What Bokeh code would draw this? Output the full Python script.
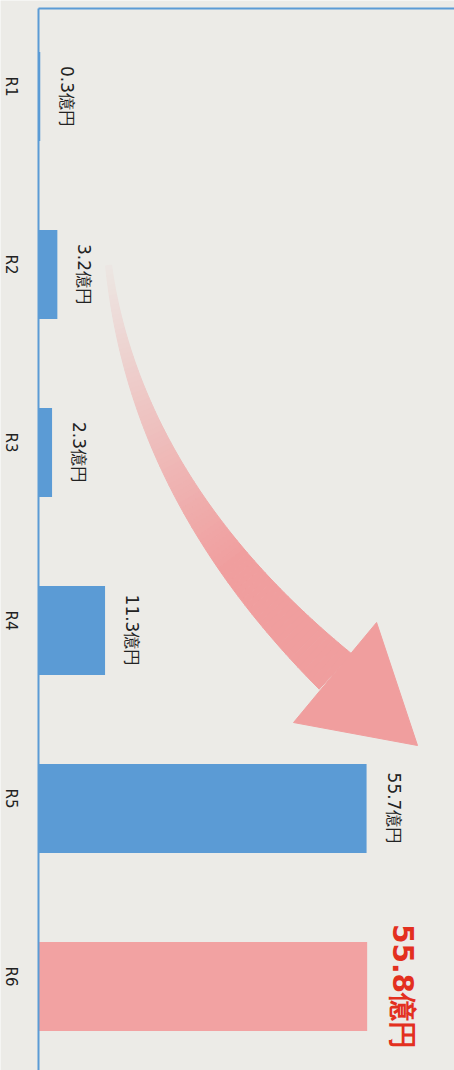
import math

from bokeh.core.properties import value
from bokeh.embed import file_html
from bokeh.models import ColumnDataSource, FixedTicker, Range1d
from bokeh.plotting import figure
from bokeh.resources import INLINE

# ---- data -------------------------------------------------------------
years = ["R1", "R2", "R3", "R4", "R5", "R6"]
amounts = [0.3, 3.2, 2.3, 11.3, 55.7, 55.8]
unit = "億円"

# ---- styling ----------------------------------------------------------
PAPER = "#ecebe7"
BLUE = "#5b9bd5"
PINK = "#f2a2a2"
RED = "#e3301f"

W, H = 454, 1070
AXIS_X, AXIS_Y = 38, 8   # where the two axis rules sit on the page
PX_X = 5.89              # pixels per 億円
ROW = 178                # pixels per category row
FIRST = 96               # pixels from page top to first row centre

positions = list(range(len(years)))
bar_colors = [BLUE] * (len(years) - 1) + [PINK]

x_end = (W - AXIS_X) / PX_X
y_top = (AXIS_Y - FIRST) / ROW
p = figure(
    width=W, height=H,
    x_range=Range1d(-AXIS_X / PX_X, x_end),
    y_range=Range1d((H - FIRST) / ROW, -FIRST / ROW),
    output_backend="svg", toolbar_location=None,
    min_border=0,
    background_fill_color=PAPER, border_fill_color=PAPER,
)
p.outline_line_color = None
p.grid.visible = False

# top rule: an axis with no ticks or labels, pinned inside the frame
xa = p.xaxis[0]
xa.fixed_location = y_top
xa.bounds = (0, x_end)
xa.ticker = FixedTicker(ticks=[])
xa.axis_line_color = BLUE
xa.axis_line_width = 2
xa.major_tick_out = 0
xa.minor_tick_out = 0
xa.major_label_text_font_size = "0px"

# category axis at zero, labels read top to bottom
ya = p.yaxis[0]
ya.fixed_location = 0
ya.bounds = (y_top, (H - FIRST) / ROW)
ya.ticker = FixedTicker(ticks=positions)
ya.major_label_overrides = {i: y for i, y in zip(positions, years)}
ya.major_label_orientation = -math.pi / 2
ya.axis_line_color = BLUE
ya.axis_line_width = 2
ya.major_tick_line_color = None
ya.minor_tick_line_color = None
ya.major_tick_out = 0
ya.minor_tick_out = 0
ya.major_label_standoff = 28
ya.major_label_text_font = "DejaVu Sans"
ya.major_label_text_font_size = "15px"
ya.major_label_text_color = "#222222"

# ---- curved arrow from the small years to the large ones ---------------
arrow_start = (11.9, 0.95)
arrow_bend = (16.5, 2.21)
arrow_neck = (50.4, 3.23)
head_left = (43.3, 3.517)
head_right = (57.4, 2.955)
head_tip = (64.35, 3.646)


def to_px(pt):
    return pt[0] * PX_X, pt[1] * ROW


def to_data(pt):
    return pt[0] / PX_X, pt[1] / ROW


def mix(a, b, f):
    ca = [int(a[i:i + 2], 16) for i in (1, 3, 5)]
    cb = [int(b[i:i + 2], 16) for i in (1, 3, 5)]
    c = [round(ca[k] + (cb[k] - ca[k]) * f) for k in range(3)]
    return "#%02x%02x%02x" % tuple(c)


P0, P1, P2 = to_px(arrow_start), to_px(arrow_bend), to_px(arrow_neck)
steps = 90
left_edge, right_edge = [], []
for i in range(steps + 1):
    t = i / steps
    bx = (1 - t) ** 2 * P0[0] + 2 * t * (1 - t) * P1[0] + t * t * P2[0]
    by = (1 - t) ** 2 * P0[1] + 2 * t * (1 - t) * P1[1] + t * t * P2[1]
    dx = 2 * (1 - t) * (P1[0] - P0[0]) + 2 * t * (P2[0] - P1[0])
    dy = 2 * (1 - t) * (P1[1] - P0[1]) + 2 * t * (P2[1] - P1[1])
    n = math.hypot(dx, dy)
    nx, ny = -dy / n, dx / n
    half = (6 + 42 * t ** 1.3) / 2
    left_edge.append(to_data((bx + nx * half, by + ny * half)))
    right_edge.append(to_data((bx - nx * half, by - ny * half)))

seg_xs, seg_ys, seg_colors = [], [], []
for i in range(steps):
    tm = (i + 0.5) / steps
    fade = min(1.0, (tm + 0.04) / 0.75)
    quad = [left_edge[i], left_edge[i + 1], right_edge[i + 1], right_edge[i]]
    seg_xs.append([q[0] for q in quad])
    seg_ys.append([q[1] for q in quad])
    seg_colors.append(mix(PAPER, "#f09e9e", fade))

p.patches(xs="xs", ys="ys", fill_color="c", line_color="c", line_width=1,
          source=ColumnDataSource(dict(xs=seg_xs, ys=seg_ys, c=seg_colors)))
head = [head_left, head_right, head_tip]
p.patch(x=[h[0] for h in head], y=[h[1] for h in head],
        fill_color="#f09e9e", line_color="#f09e9e", line_width=1)

# ---- bars ------------------------------------------------------------
bars = ColumnDataSource(dict(pos=positions, amount=amounts, color=bar_colors))
p.hbar(y="pos", left=0, right="amount", height=0.5,
       fill_color="color", line_color=None, source=bars)

# ---- value labels ----------------------------------------------------
labels = ColumnDataSource(dict(
    pos=positions[:-1],
    amount=amounts[:-1],
    text=[f"{v}{unit}" for v in amounts[:-1]],
))
p.text(x="amount", y="pos", text="text", source=labels,
       angle=-math.pi / 2, text_align="center", text_baseline="middle",
       x_offset=27, text_font=value("DejaVu Sans"),
       text_font_size="17px", text_color="#222222")

# latest year, written large
latest = ColumnDataSource(dict(
    pos=positions[-1:],
    amount=amounts[-1:],
    text=[f"{amounts[-1]}{unit}"],
))
p.text(x="amount", y="pos", text="text", source=latest,
       angle=-math.pi / 2, text_align="center", text_baseline="middle",
       x_offset=35, text_font=value("DejaVu Sans"),
       text_font_style="bold", text_font_size="28px", text_color=RED)

open("out.html", "w").write(file_html(p, INLINE))
